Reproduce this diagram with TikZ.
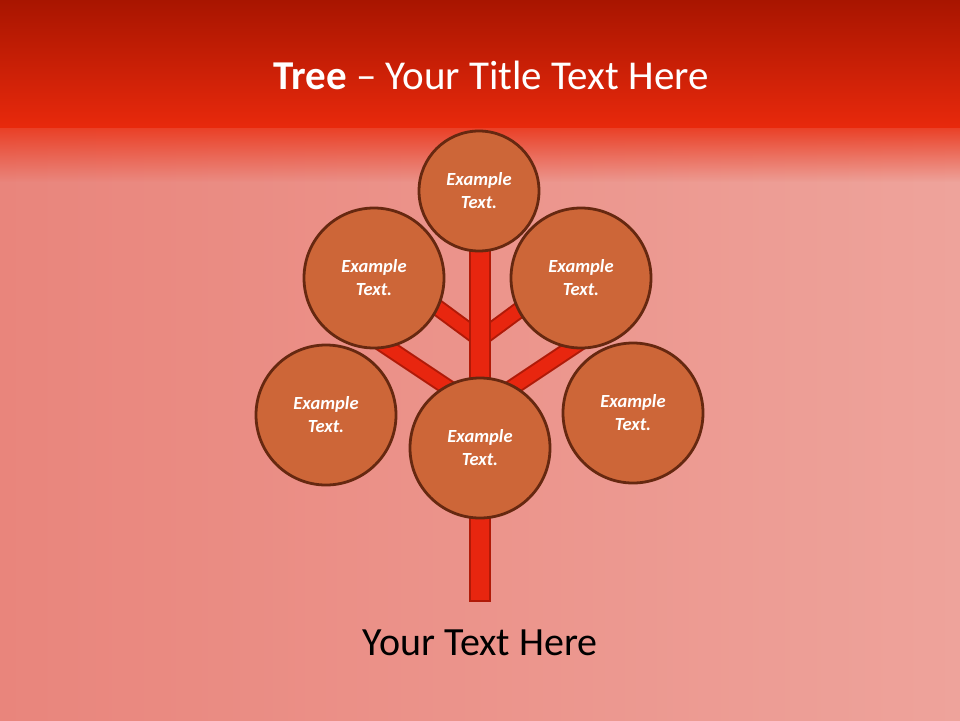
\documentclass[tikz,border=0pt]{standalone}
\usepackage{fontspec}
\setmainfont{Carlito}
\usetikzlibrary{fadings}
\definecolor{bgpink}{HTML}{E9857C}
\definecolor{bglight}{HTML}{EEA39B}
\definecolor{headtop}{HTML}{A81500}
\definecolor{headbot}{HTML}{E8290C}
\definecolor{leaffill}{HTML}{CD6638}
\definecolor{leafline}{HTML}{662810}
\definecolor{barfill}{HTML}{E8260F}
\definecolor{barline}{HTML}{B01A08}
\begin{document}
\begin{tikzpicture}[x=1pt, y=-1pt,
    leaf/.style={circle, fill=leaffill, draw=leafline, line width=2.8pt,
      inner sep=0pt, text=white, align=center,
      font=\fontsize{18.5}{23}\selectfont\bfseries\itshape},
    branchout/.style={draw=barline, line width=17pt},
    branchin/.style={draw=barfill, line width=13pt}]
    % background
    \useasboundingbox (0,0) rectangle (960,720);
    \shade[left color=bgpink, right color=bglight] (0,0) rectangle (960,720);
    \fill[headbot!90!white, path fading=south] (-20,126) rectangle (980,182);
    \shade[top color=headtop, bottom color=headbot] (0,0) rectangle (960,127);
    \node[text=white, font=\fontsize{41}{48}\selectfont] (title) at (491,75)
      {\textbf{Tree} -- Your Title Text Here};

    % branch points
    \coordinate (lowfork) at (480,409);
    \coordinate (upfork) at (480,339);
    \coordinate (lowL) at (372,337);
    \coordinate (lowR) at (588,337);
    \coordinate (upL) at (400,280);
    \coordinate (upR) at (560,280);

    % branches
    \draw[branchout] (upfork) -- (upL);
    \draw[branchout] (upfork) -- (upR);
    \draw[branchout] (lowfork) -- (lowL);
    \draw[branchout] (lowfork) -- (lowR);
    \draw[branchin] (upfork) -- (upL);
    \draw[branchin] (upfork) -- (upR);
    \draw[branchin] (lowfork) -- (lowL);
    \draw[branchin] (lowfork) -- (lowR);

    % trunk
    \node[draw=barline, fill=barfill, line width=1.5pt, minimum width=20pt,
      minimum height=352pt, inner sep=0pt] (trunk) at (480,425) {};

    % leaves
    \node[leaf, minimum size=120pt] (top) at (479,191) {Example\\Text.};
    \node[leaf, minimum size=140pt] (upleft) at (374,278) {Example\\Text.};
    \node[leaf, minimum size=140pt] (upright) at (581,278) {Example\\Text.};
    \node[leaf, minimum size=140pt] (lowleft) at (326,415) {Example\\Text.};
    \node[leaf, minimum size=140pt] (lowright) at (633,413) {Example\\Text.};
    \node[leaf, minimum size=140pt] (root) at (480,448) {Example\\Text.};

    \node[font=\fontsize{40}{46}\selectfont] (caption) at (480,643) {Your Text Here};
\end{tikzpicture}
\end{document}
